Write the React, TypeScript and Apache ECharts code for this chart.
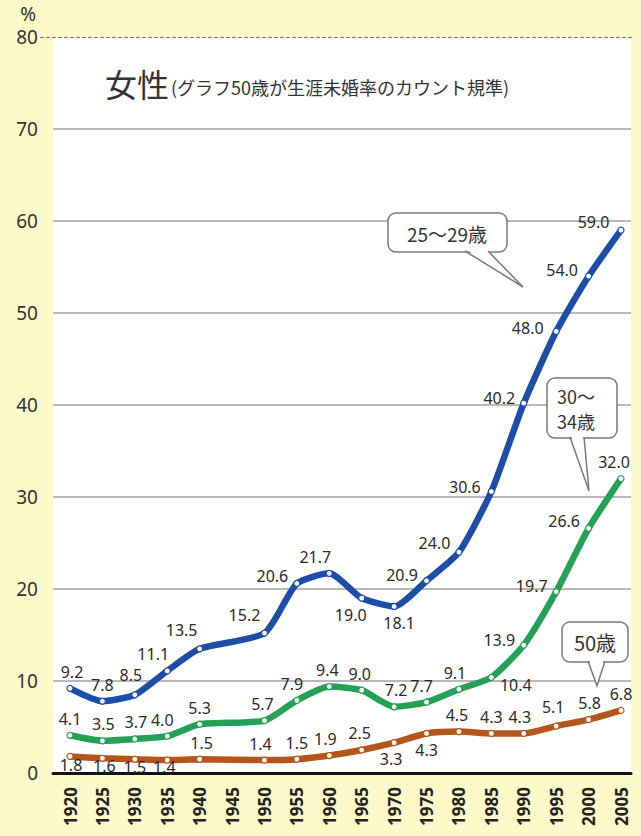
import React, { useEffect, useRef } from "react";
import * as echarts from "echarts";

const years = ["1920","1925","1930","1935","1940","1945","1950","1955","1960","1965","1970","1975","1980","1985","1990","1995","2000","2005"];
const age25to29 = [9.2, 7.8, 8.5, 11.1, 13.5, null, 15.2, 20.6, 21.7, 19.0, 18.1, 20.9, 24.0, 30.6, 40.2, 48.0, 54.0, 59.0];
const age30to34 = [4.1, 3.5, 3.7, 4.0, 5.3, null, 5.7, 7.9, 9.4, 9.0, 7.2, 7.7, 9.1, 10.4, 13.9, 19.7, 26.6, 32.0];
const age50 = [1.8, 1.6, 1.5, 1.4, 1.5, null, 1.4, 1.5, 1.9, 2.5, 3.3, 4.3, 4.5, 4.3, 4.3, 5.1, 5.8, 6.8];
const yTicks = [0, 10, 20, 30, 40, 50, 60, 70, 80];

// label placement (style only)
const bluePos = ["top","top","top","top","top",null,"top","left","top","bottom","bottom","left","left","left","left","left","left","left"];
const blueOff = [[2,0],[0,0],[-4,-3],[-14,0],[-18,-2],null,[-20,-2],[0,-7],[-14,0],[-11,0],[5,0],[0,-6],[0,-9],[-2,-4],[0,-5],[-4,-3],[-2,-6],[-3,-8]];
const greenPos = ["top","top","top","top","top",null,"top","top","top","top","top","top","top","right","left","left","left","top"];
const greenOff = [[0,0],[1,0],[1,0],[-5,0],[0,0],null,[-2,0],[-5,0],[-2,0],[-2,0],[2,0],[-5,0],[-4,0],[0,8],[0,-5],[0,-6],[0,-7],[-7,0]];
const brownPos = ["bottom","bottom","bottom","bottom","top",null,"top","top","top","top","bottom","bottom","top","top","top","top","top","top"];
const brownOff = [[1,-8],[2,-9],[0,-9],[-3,-10],[2,0],null,[-4,0],[0,0],[-4,0],[-2,0],[-3,0],[0,0],[-2,0],[0,0],[-4,0],[-3,-2],[1,0],[0,0]];

const FONT = "'Noto Sans', 'Noto Sans CJK JP', sans-serif";
const JP = "'Noto Sans CJK JP', 'Noto Sans', sans-serif";

function buildData(vals: (number | null)[], pos: any[], off: any[]) {
  return vals.map((v, i) => {
    if (v === null) return "-";
    return {
      value: v,
      label: { position: pos[i], offset: off[i] },
    };
  });
}

function lineSeries(name: string, vals: (number | null)[], pos: any[], off: any[], color: string) {
  return {
    name,
    type: "line",
    xAxisIndex: 0,
    yAxisIndex: 0,
    smooth: 0.2,
    connectNulls: true,
    symbol: "circle",
    symbolSize: 6,
    lineStyle: { color, width: 6.5 },
    itemStyle: { color: "#ffffff", borderColor: color, borderWidth: 1.2 },
    label: {
      show: true,
      distance: 5,
      color: "#2a2a2a",
      fontSize: 16,
      fontFamily: FONT,
      formatter: (p: any) => Number(p.value).toFixed(1),
    },
    data: buildData(vals, pos, off),
    z: 3,
  };
}

function callout(x: number, y: number, w: number, h: number, tail: number[][], lines: string[], tx: number, ty: number, fs: number, align: string, gap: number) {
  const stroke = "#7a7a7a";
  const texts = lines.map((t, i) => ({
    type: "text",
    x: tx,
    y: ty + i * gap,
    style: {
      text: t,
      fill: "#333",
      fontSize: fs,
      fontFamily: JP,
      align,
      verticalAlign: "middle",
    },
    z: 103,
  }));
  return {
    type: "group",
    z: 100,
    children: [
      {
        type: "rect",
        shape: { x, y, width: w, height: h, r: 8 },
        style: { fill: "#ffffff", stroke, lineWidth: 1.5 },
        z: 100,
      },
      {
        type: "polygon",
        shape: { points: [[tail[0][0] + 1, tail[0][1] - 2], [tail[1][0] - 1, tail[1][1] - 2], tail[2]] },
        style: { fill: "#ffffff" },
        z: 101,
      },
      {
        type: "polyline",
        shape: { points: [tail[0], tail[2], tail[1]] },
        style: { stroke, lineWidth: 1.5, fill: null },
        z: 102,
      },
      ...texts,
    ],
  };
}

export default function App() {
  const ref = useRef<HTMLDivElement>(null);
  useEffect(() => {
    if (!ref.current) return;
    const chart = echarts.init(ref.current, null, { renderer: "svg" });
    const gridColors = yTicks.map((t) => (t === 80 ? "rgba(0,0,0,0)" : "#b8b8b8"));
    chart.setOption({
      animation: false,
      backgroundColor: "#fdf9c8",
      title: {
        left: 100,
        top: 62,
        text: "{a|女性}{b|(グラフ50歳が生涯未婚率のカウント規準)}",
        textStyle: {
          fontWeight: "normal",
          rich: {
            a: { fontSize: 32, fontFamily: JP, color: "#333", fontWeight: "normal", verticalAlign: "bottom" },
            b: { fontSize: 18, fontFamily: JP, color: "#333", fontWeight: "normal", verticalAlign: "bottom", padding: [0, 0, 3, 2] },
          },
        },
      },
      grid: [
        { left: 70, right: 20, top: 37, bottom: 63, show: false },
        { left: 53, right: 10, top: 37, bottom: 63, show: true, backgroundColor: "#ffffff", borderWidth: 0, z: 0 },
      ],
      xAxis: [
        {
          type: "category",
          gridIndex: 0,
          data: years,
          boundaryGap: false,
          axisLine: { show: false },
          axisTick: { show: false },
          splitLine: { show: false },
          axisLabel: {
            rotate: 90,
            margin: 14,
            interval: 0,
            color: "#222",
            fontSize: 17,
            fontWeight: "bold",
            fontFamily: FONT,
          },
        },
        {
          type: "value",
          gridIndex: 1,
          min: 0,
          max: 1,
          axisLine: { show: true, onZero: false, lineStyle: { color: "#111", width: 3 } },
          axisTick: { show: false },
          axisLabel: { show: false },
          splitLine: { show: false },
        },
      ],
      yAxis: [
        {
          type: "value",
          gridIndex: 0,
          min: 0,
          max: 80,
          interval: 10,
          show: false,
          splitLine: { show: false },
        },
        {
          type: "value",
          gridIndex: 1,
          min: 0,
          max: 80,
          interval: 10,
          name: "%",
          nameLocation: "end",
          nameGap: 14,
          nameTextStyle: { color: "#333", fontSize: 19, fontFamily: FONT, align: "right", padding: [0, 17, 0, 0] },
          axisLine: { show: false },
          axisTick: { show: false },
          axisLabel: { color: "#333", fontSize: 19, fontFamily: FONT, margin: 15 },
          splitLine: { show: true, lineStyle: { color: gridColors, width: 2 } },
        },
      ],
      series: [
        {
          type: "line",
          xAxisIndex: 1,
          yAxisIndex: 1,
          data: [],
          silent: true,
          markLine: {
            silent: true,
            symbol: "none",
            label: { show: false },
            lineStyle: { color: "#777", type: "dashed", width: 1 },
            data: [[{ coord: [0, 80], x: 40 }, { coord: [1, 80], x: 633 }]],
          },
        },
        lineSeries("50歳", age50, brownPos, brownOff, "#b4561c"),
        lineSeries("30～34歳", age30to34, greenPos, greenOff, "#26a057"),
        lineSeries("25～29歳", age25to29, bluePos, blueOff, "#1c4ea8"),
      ],
      graphic: [
        callout(388, 213, 119, 39, [[465, 251], [488, 251], [523, 287]], ["25～29歳"], 447, 233, 19, "center", 0),
        callout(547, 378, 70, 60, [[570, 437], [584, 437], [589, 491]], ["30～", "34歳"], 557, 396, 18, "left", 25),
        callout(562, 622, 66, 40, [[588, 661], [605, 661], [597, 686]], ["50歳"], 595, 642, 20, "center", 0),
      ],
    });
    return () => chart.dispose();
  }, []);
  return <div ref={ref} style={{ position: "fixed", left: 0, top: 0, width: 641, height: 836 }} />;
}
